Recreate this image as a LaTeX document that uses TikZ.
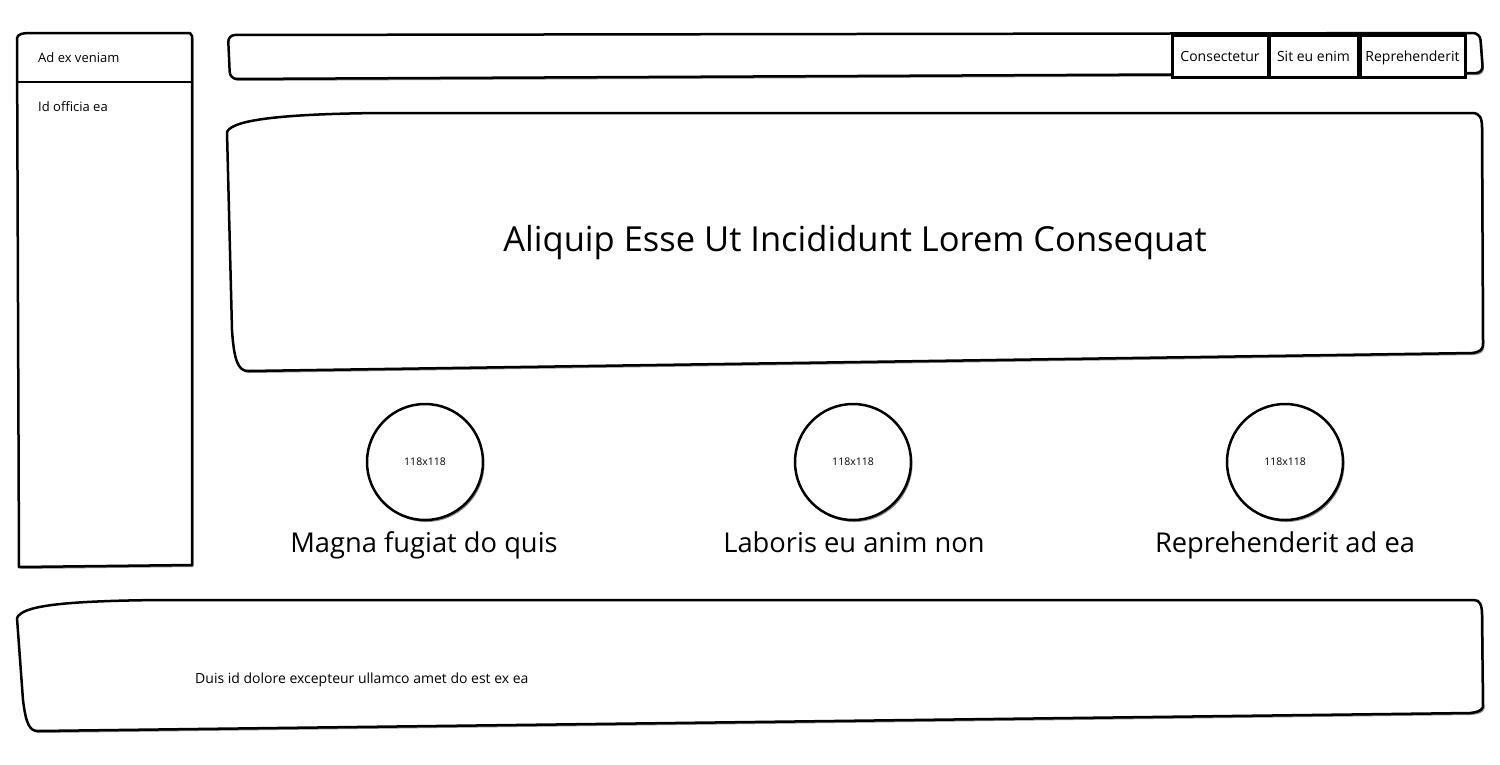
\documentclass[tikz,border=0pt]{standalone}
\usepackage{fontspec}
\setmainfont{Open Sans}
\usetikzlibrary{shadows}
\tikzset{
  box/.style={draw=black, line width=2.5pt, fill=white, line join=round,
    drop shadow={shadow xshift=1.5pt, shadow yshift=-2pt, opacity=0.45, fill=black}},
  btn/.style={draw=black, line width=3pt, fill=white, inner sep=0pt, text height=11.5pt, text depth=0.5pt,
    font=\fontsize{14}{16}\selectfont},
  pic/.style={circle, draw=black, line width=2.5pt, fill=white, minimum size=116pt, inner sep=0pt,
    font=\fontsize{10.5}{12}\selectfont,
    drop shadow={shadow xshift=1.5pt, shadow yshift=-2pt, opacity=0.45, fill=black}},
  small/.style={anchor=base west, inner sep=0pt, font=\fontsize{13}{15}\selectfont},
  caption/.style={anchor=base, inner sep=0pt, font=\fontsize{27.3}{32}\selectfont},
  title/.style={anchor=base, inner sep=0pt, font=\fontsize{34.5}{40}\selectfont}
}
\begin{document}
\begin{tikzpicture}[x=1pt, y=-1pt]
\useasboundingbox (0,0) rectangle (1500,764);
% sidebar
\path[box] (17,38) .. controls (18,34) and (22,33) .. (32,33) -- (190,33)
  -- (192,36) -- (192,565) -- (19,567) -- cycle;
\draw[line width=2.5pt] (17,82) -- (192,82);
\node[small] (side1) at (38,62) {Ad ex veniam};
\node[small] (side2) at (38,111) {Id officia ea};
% top bar
\path[box, rounded corners=7pt] (228,35) -- (1480,33) -- (1483,73) -- (230,79) -- cycle;
\node[btn, minimum width=96pt, minimum height=42pt] (b1) at (1220,56) {Consectetur};
\node[btn, minimum width=89pt, minimum height=42pt] (b2) at (1313.5,56) {Sit eu enim};
\node[btn, minimum width=105pt, minimum height=42pt] (b3) at (1412.5,56) {Reprehenderit};
% hero
\path[box] (227,132) .. controls (232,120) and (280,114) .. (380,113) -- (1472,113)
  .. controls (1480,113) and (1482,118) .. (1482,128) -- (1483,343)
  .. controls (1483,350) and (1480,352) .. (1472,353)
  -- (248,371) .. controls (238,371) and (234,360) .. (232,330) -- cycle;
\node[title] (hero) at (855,251) {Aliquip Esse Ut Incididunt Lorem Consequat};
% circles
\node[pic] (c1) at (425,462) {118x118};
\node[pic] (c2) at (853,462) {118x118};
\node[pic] (c3) at (1285,462) {118x118};
\node[caption] (l1) at (424,552) {Magna fugiat do quis};
\node[caption] (l2) at (854,552) {Laboris eu anim non};
\node[caption] (l3) at (1285,552) {Reprehenderit ad ea};
% footer
\path[box] (17,618) .. controls (22,606) and (60,601) .. (160,600) -- (1474,600)
  .. controls (1480,600) and (1482,605) .. (1482,615) -- (1483,707)
  .. controls (1481,711) and (1478,712) .. (1470,713)
  -- (38,731) .. controls (30,731) and (26,725) .. (23,700) -- cycle;
\node[small, font=\fontsize{14}{16}\selectfont] (foot) at (195,683) {Duis id dolore excepteur ullamco amet do est ex ea};
\end{tikzpicture}
\end{document}
